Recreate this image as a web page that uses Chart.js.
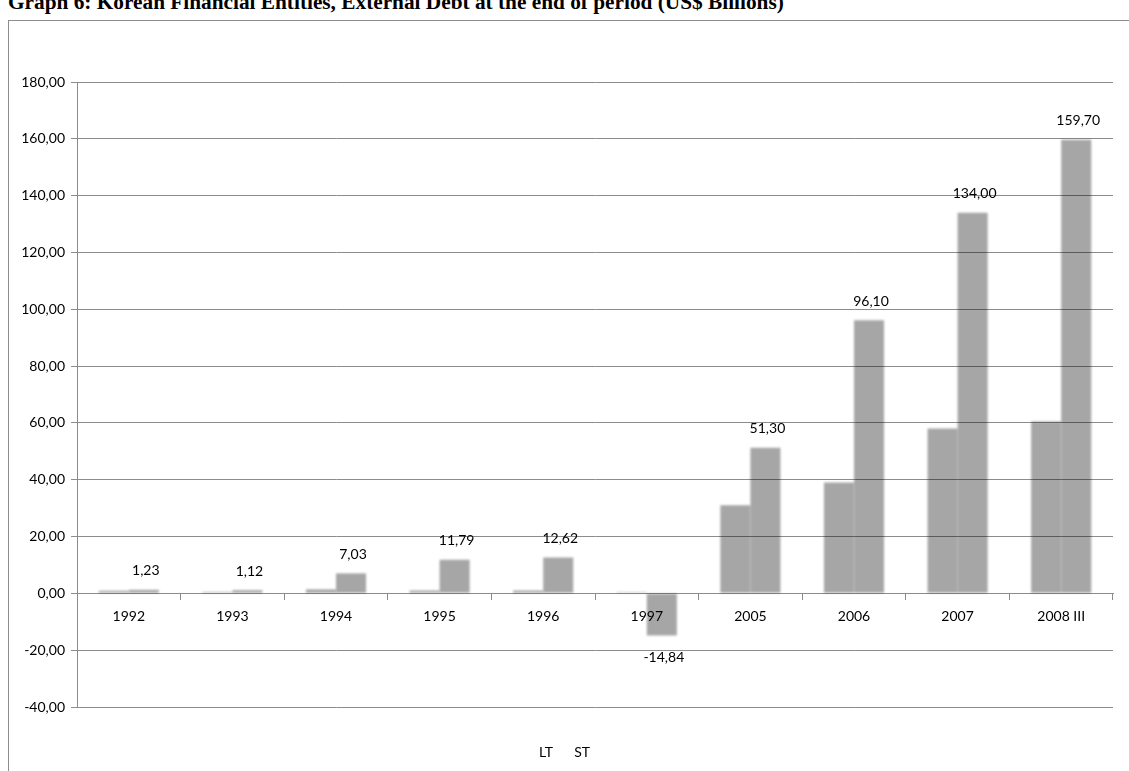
<!DOCTYPE html>
<html>
<head>
<meta charset="utf-8">
<script src="https://cdn.jsdelivr.net/npm/chart.js@4/dist/chart.umd.min.js"></script>
<style>
  html, body { margin: 0; padding: 0; background: #fff; overflow: hidden; }
  body { width: 1129px; height: 771px; position: relative; }
  #title {
    position: absolute; left: 8px; top: -10px; margin: 0;
    font-family: "Liberation Serif", serif; font-weight: bold; font-size: 21.3px;
    white-space: nowrap; color: #000;
  }
  #frame {
    position: absolute; left: 8px; top: 20px; width: 1121px; height: 751px;
    border-left: 1px solid #8c8c8c; border-top: 1px solid #8c8c8c;
  }
  #chart { display: block; }
</style>
</head>
<body>
<h1 id="title">Graph 6: Korean Financial Entities, External Debt at the end of period (US$ Billions)</h1>
<div id="frame"><canvas id="chart" width="1120" height="750"></canvas></div>
<script>
// Periods and series (US$ billions)
const periods = ["1992", "1993", "1994", "1995", "1996", "1997", "2005", "2006", "2007", "2008 III"];
const ltDebt = [0.9, 0.5, 1.4, 1.0, 1.0, 0.4, 31.0, 39.0, 58.0, 60.5];
const stDebt = [1.23, 1.12, 7.03, 11.79, 12.62, -14.84, 51.30, 96.10, 134.00, 159.70];
const seriesNames = ["LT", "ST"];
const yMin = -40, yMax = 180, yStep = 20;

const fmt = (v) => v.toFixed(2).replace(".", ",");
const gridColor = "#8c8c8c";
const barColor = "rgba(0,0,0,0.35)";
const tickFont = { family: "Lato, sans-serif", size: 14 };

// soft edges on the bars
const softBars = {
  id: "softBars",
  beforeDatasetsDraw(chart) {
    chart.ctx.save();
    chart.ctx.filter = "blur(1.2px)";
  },
  afterDatasetsDraw(chart) {
    chart.ctx.restore();
  },
};

// value labels on ST bars
const stLabels = {
  id: "stLabels",
  afterDraw(chart) {
    const ctx = chart.ctx;
    const meta = chart.getDatasetMeta(1);
    ctx.save();
    ctx.font = "14px Lato, sans-serif";
    ctx.fillStyle = "#000";
    ctx.textAlign = "center";
    ctx.textBaseline = "middle";
    meta.data.forEach((bar, i) => {
      const v = stDebt[i];
      const y = v >= 0 ? bar.y - 19 : bar.y + 22;
      ctx.fillText(fmt(v), bar.x + 2, y);
    });
    ctx.restore();
  },
};

new Chart(document.getElementById("chart"), {
  type: "bar",
  data: {
    labels: periods,
    datasets: [
      { label: seriesNames[0], data: ltDebt, backgroundColor: barColor, borderWidth: 0,
        categoryPercentage: 0.58, barPercentage: 1.0 },
      { label: seriesNames[1], data: stDebt, backgroundColor: barColor, borderWidth: 0,
        categoryPercentage: 0.58, barPercentage: 1.0 },
    ],
  },
  options: {
    responsive: false,
    animation: false,
    layout: { padding: { left: 0, right: 16, top: 61, bottom: 2 } },
    scales: {
      x: {
        position: { y: 0 },
        grid: { offset: true, drawOnChartArea: false, drawTicks: true, tickLength: 6, color: gridColor },
        border: { color: gridColor },
        ticks: { font: tickFont, color: "#000", padding: 9, maxRotation: 0 },
      },
      y: {
        min: yMin,
        max: yMax,
        afterFit: (s) => { s.width = 68; },
        grid: { color: gridColor, tickLength: 6 },
        border: { color: gridColor },
        ticks: { stepSize: yStep, font: tickFont, color: "#000", padding: 6, callback: (v) => fmt(v) },
      },
    },
    plugins: {
      tooltip: { enabled: false },
      legend: {
        position: "bottom",
        title: { display: true, text: " ", font: { size: 10 }, padding: { top: 12, bottom: 0 } },
        labels: { boxWidth: 0, boxHeight: 0, padding: 14, font: tickFont, color: "#000" },
      },
    },
  },
  plugins: [softBars, stLabels],
});
</script>
</body>
</html>
